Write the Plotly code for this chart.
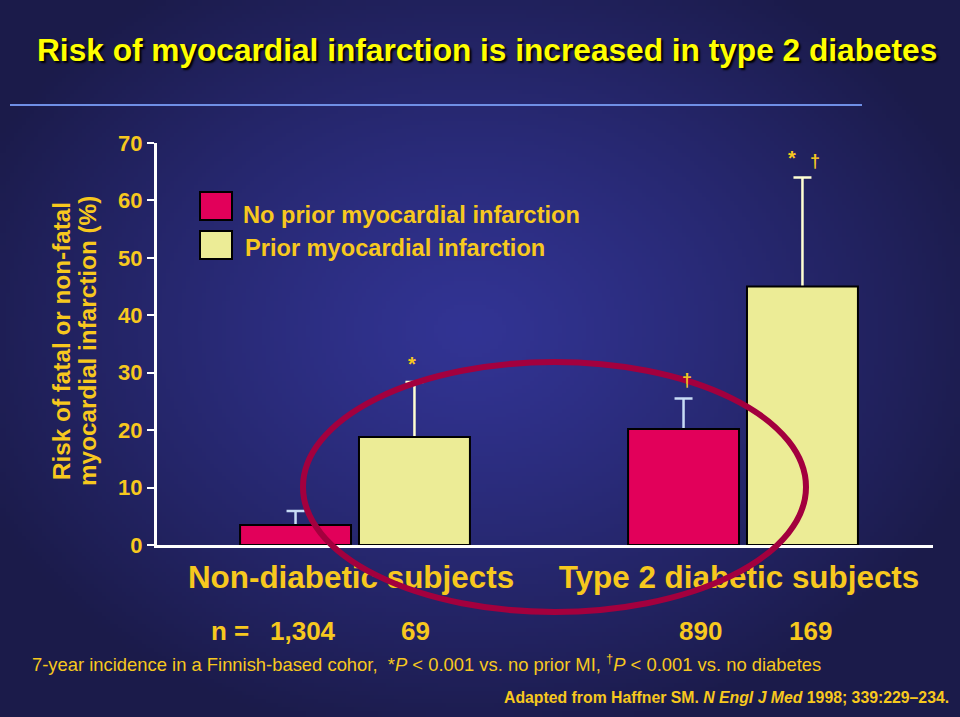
import base64
import struct
import zlib

import numpy as np
import plotly.graph_objects as go

# ---------------- data ----------------
groups = ["Non-diabetic subjects", "Type 2 diabetic subjects"]
series_names = ["No prior myocardial infarction", "Prior myocardial infarction"]
no_prior_mi = [3.5, 20.2]
no_prior_mi_err = [2.4, 5.3]
prior_mi = [18.8, 45.0]
prior_mi_err = [9.6, 19.0]
n_counts = ["1,304", "69", "890", "169"]
y_ticks = [0, 10, 20, 30, 40, 50, 60, 70]
sig_marks = ["*", "†", "*", "†"]

# ---------------- geometry helpers (page px -> paper) ----------------
W, H = 960, 717
L, R, T, B = 157, 933, 143, 545


def fx(px):
    return (px - L) / (R - L)


def fy(py):
    return (B - py) / (B - T)


GOLD = "#F7C81E"
FONT = "Liberation Sans, Arial, sans-serif"


# ---------------- background gradient image ----------------
def make_png(arr):
    h, w, _ = arr.shape
    raw = b"".join(b"\x00" + arr[i].tobytes() for i in range(h))

    def chunk(tag, data):
        c = struct.pack(">I", len(data)) + tag + data
        return c + struct.pack(">I", zlib.crc32(tag + data) & 0xFFFFFFFF)

    return (b"\x89PNG\r\n\x1a\n"
            + chunk(b"IHDR", struct.pack(">IIBBBBB", w, h, 8, 2, 0, 0, 0))
            + chunk(b"IDAT", zlib.compress(raw, 9))
            + chunk(b"IEND", b""))


gw, gh = 240, 180
yy, xx = np.mgrid[0:gh, 0:gw]
px = (xx + 0.5) * W / gw
py = (yy + 0.5) * H / gh
t = np.sqrt(((px - 470) / 540) ** 2 + ((py - 330) / 420) ** 2)
t = np.clip(t, 0, 1) ** 1.2
c_in = np.array([50, 52, 148], dtype=float)
c_out = np.array([27, 27, 74], dtype=float)
img = (c_in[None, None, :] * (1 - t[..., None]) + c_out[None, None, :] * t[..., None])
img = np.clip(img, 0, 255).astype(np.uint8)
bg_src = "data:image/png;base64," + base64.b64encode(make_png(img)).decode()

# ---------------- traces ----------------
fig = go.Figure()
# error whiskers first (their lower caps end up hidden behind the opaque bars)
for vals, errs, col, grp in [(no_prior_mi, no_prior_mi_err, "#C8DCF5", "a"),
                             (prior_mi, prior_mi_err, "#FFFFD2", "b")]:
    fig.add_trace(go.Bar(
        x=groups, y=vals, offsetgroup=grp,
        marker=dict(color="rgba(0,0,0,0)", line=dict(width=0)),
        error_y=dict(type="data", symmetric=False, array=errs,
                     arrayminus=[1.5] * len(vals), color=col, thickness=2.5, width=9),
        showlegend=False, hoverinfo="skip",
    ))
fig.add_trace(go.Bar(
    x=groups, y=no_prior_mi, name=series_names[0], offsetgroup="a",
    marker=dict(color="#E2005A", line=dict(color="#000000", width=2)),
    showlegend=False,
))
fig.add_trace(go.Bar(
    x=groups, y=prior_mi, name=series_names[1], offsetgroup="b",
    marker=dict(color="#ECEC96", line=dict(color="#000000", width=2)),
    showlegend=False,
))

shapes = []
annotations = []

# title rule
shapes.append(dict(type="line", xref="paper", yref="paper",
                   x0=fx(10), x1=fx(862), y0=fy(105), y1=fy(105),
                   line=dict(color="#6F8FE6", width=2)))

# legend boxes
shapes.append(dict(type="rect", xref="paper", yref="paper",
                   x0=fx(200), x1=fx(232), y0=fy(220), y1=fy(192),
                   fillcolor="#E2005A", line=dict(color="#000000", width=2)))
shapes.append(dict(type="rect", xref="paper", yref="paper",
                   x0=fx(200), x1=fx(232), y0=fy(259), y1=fy(231),
                   fillcolor="#ECEC96", line=dict(color="#000000", width=2)))
annotations.append(dict(text=series_names[0], xref="paper", yref="paper",
                        x=fx(241), y=fy(215), xanchor="left", yanchor="middle",
                        showarrow=False,
                        font=dict(family=FONT, size=23.6, color=GOLD, weight="bold")))
annotations.append(dict(text=series_names[1], xref="paper", yref="paper",
                        x=fx(243), y=fy(248), xanchor="left", yanchor="middle",
                        showarrow=False,
                        font=dict(family=FONT, size=23.6, color=GOLD, weight="bold")))

# highlight ellipse
shapes.append(dict(type="circle", xref="paper", yref="paper", layer="above",
                   x0=fx(303), x1=fx(806), y0=fy(612), y1=fy(362),
                   line=dict(color="#A3003E", width=6)))

# title
annotations.append(dict(text="Risk of myocardial infarction is increased in type 2 diabetes",
                        xref="paper", yref="paper", x=fx(487), y=fy(50),
                        xanchor="center", yanchor="middle", showarrow=False,
                        font=dict(family=FONT, size=31.65, color="#FFFF00", weight="bold",
                                  shadow="2px 2px 2px #000000")))

# y-axis title (two lines)
for line_txt, cx in [("Risk of fatal or non-fatal", 61), ("myocardial infarction (%)", 87)]:
    annotations.append(dict(text=line_txt, xref="paper", yref="paper", x=fx(cx), y=fy(341),
                            xanchor="center", yanchor="middle", showarrow=False,
                            textangle=-90,
                            font=dict(family=FONT, size=24.3, color=GOLD, weight="bold")))

# significance marks
sig_pos = [(412, 364), (687, 380), (792, 158), (815, 161)]
for m, (sx, sy) in zip(sig_marks, sig_pos):
    annotations.append(dict(text=m, xref="paper", yref="paper", x=fx(sx), y=fy(sy),
                            xanchor="center", yanchor="middle", showarrow=False,
                            font=dict(family=FONT, size=20 if m == "*" else 18,
                                      color=GOLD, weight="bold")))

# n row
nfont = dict(family=FONT, size=26, color=GOLD, weight="bold")
annotations.append(dict(text="n =", xref="paper", yref="paper", x=fx(230), y=fy(631),
                        xanchor="center", yanchor="middle", showarrow=False, font=nfont))
for txt, cx in zip(n_counts, [303, 415, 700, 810]):
    annotations.append(dict(text=txt, xref="paper", yref="paper", x=fx(cx), y=fy(631),
                            xanchor="center", yanchor="middle", showarrow=False, font=nfont))

# footnote
annotations.append(dict(
    text="7-year incidence in a Finnish-based cohor,  *<i>P</i> &lt; 0.001 vs. no prior MI, "
         "<sup>†</sup><i>P</i> &lt; 0.001 vs. no diabetes",
    xref="paper", yref="paper", x=fx(30), y=fy(663), xanchor="left", yanchor="middle",
    showarrow=False, font=dict(family=FONT, size=18.4, color=GOLD)))
annotations.append(dict(
    text="Adapted from Haffner SM. <i>N Engl J Med</i> 1998; 339:229–234.",
    xref="paper", yref="paper", x=fx(951), y=fy(697), xanchor="right", yanchor="middle",
    showarrow=False, font=dict(family=FONT, size=15.8, color=GOLD, weight="bold")))

shift = 4 / 388.0
fig.update_layout(
    width=W, height=H,
    margin=dict(l=L, r=W - R, t=T, b=H - B, pad=0),
    paper_bgcolor="#1B1B4A",
    plot_bgcolor="rgba(0,0,0,0)",
    barmode="group", bargap=0.387, bargroupgap=0.067,
    showlegend=False,
    shapes=shapes,
    annotations=annotations,
    images=[dict(source=bg_src, xref="paper", yref="paper",
                 x=fx(0), y=fy(0), sizex=W / (R - L), sizey=H / (B - T),
                 xanchor="left", yanchor="top", sizing="stretch", layer="below")],
    xaxis=dict(
        type="category", range=[-0.5 - shift, 1.5 - shift],
        showline=True, linecolor="#FFFFFF", linewidth=3,
        ticks="", showgrid=False, zeroline=False,
        ticklabelshift=-4, ticklabelstandoff=2,
        tickfont=dict(family=FONT, size=31.4, color=GOLD, weight="bold"),
    ),
    yaxis=dict(
        range=[0, 70], tickvals=y_ticks, ticktext=[str(v) for v in y_ticks],
        showline=True, linecolor="#FFFFFF", linewidth=3,
        ticks="outside", ticklen=7, tickwidth=2, tickcolor="#FFFFFF",
        showgrid=False, zeroline=False,
        tickfont=dict(family=FONT, size=22, color=GOLD, weight="bold"),
    ),
)

fig.write_html("out.html")
